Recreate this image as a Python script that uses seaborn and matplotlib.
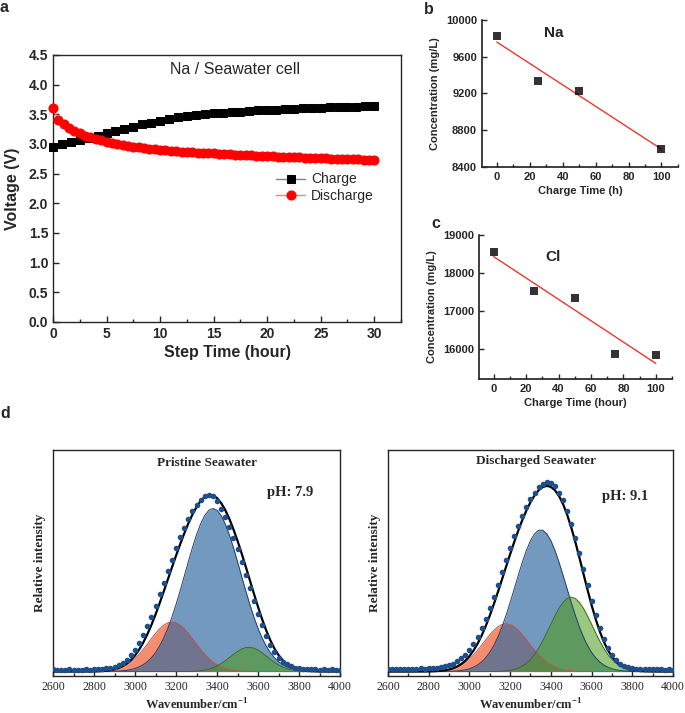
import numpy as np
import pandas as pd
import seaborn as sns
import matplotlib.pyplot as plt
from matplotlib.ticker import MultipleLocator

sns.set_theme(style="ticks")
plt.rcParams['font.family'] = ['Liberation Sans', 'DejaVu Sans']
plt.rcParams['mathtext.fontset'] = 'custom'
plt.rcParams['mathtext.bf'] = 'Liberation Serif:bold'

##panel a - voltage profile of the Na / seawater cell
charge_t = [0, 0.83, 1.67, 2.5, 3.33, 4.17, 5, 5.83, 6.67, 7.5, 8.33, 9.17, 10,
            10.83, 11.67, 12.5, 13.33, 14.17, 15, 15.83, 16.67, 17.5, 18.33, 19.17,
            20, 20.83, 21.67, 22.5, 23.33, 24.17, 25, 25.83, 26.67, 27.5, 28.33, 29.17, 30]
charge_v = [2.95, 3.00, 3.03, 3.07, 3.10, 3.14, 3.18, 3.22, 3.26, 3.29, 3.33, 3.36, 3.39,
            3.42, 3.45, 3.47, 3.49, 3.505, 3.515, 3.525, 3.535, 3.545, 3.555, 3.565,
            3.575, 3.58, 3.59, 3.595, 3.60, 3.605, 3.61, 3.615, 3.62, 3.625, 3.63, 3.64, 3.645]
discharge_t = np.arange(0, 30.5, 0.5)
discharge_v = [3.60, 3.41, 3.33, 3.27, 3.22, 3.18, 3.14, 3.11, 3.08, 3.06,
               3.04, 3.02, 3.00, 2.985, 2.97, 2.955, 2.943, 2.931, 2.92, 2.91,
               2.900, 2.893, 2.886, 2.879, 2.873, 2.867, 2.861, 2.855, 2.850, 2.845,
               2.840, 2.835, 2.830, 2.826, 2.821, 2.817, 2.812, 2.808, 2.804, 2.799,
               2.795, 2.791, 2.788, 2.784, 2.781, 2.777, 2.774, 2.770, 2.767, 2.763,
               2.760, 2.757, 2.754, 2.751, 2.748, 2.745, 2.742, 2.739, 2.736, 2.733, 2.730]

##panel b / c - ion concentration during charge
na_time = [0, 25, 50, 100]
na_conc = [9830, 9340, 9230, 8600]
cl_time = [0, 25, 50, 75, 100]
cl_conc = [18540, 17530, 17330, 15880, 15850]

##panel d - O-H stretching band, measured points and fitted peaks
wavenumber = np.arange(2600, 4001, 20)
pristine_pts = [0.012, 0.010, 0.011, 0.010, 0.012, 0.011, 0.010, 0.011, 0.012, 0.011,
                0.012, 0.013, 0.015, 0.018, 0.022, 0.028, 0.037, 0.050, 0.068, 0.092,
                0.122, 0.160, 0.205, 0.255, 0.310, 0.372, 0.435, 0.500, 0.567, 0.632,
                0.696, 0.757, 0.812, 0.862, 0.905, 0.942, 0.970, 0.988, 0.998, 0.990,
                0.960, 0.915, 0.870, 0.817, 0.756, 0.690, 0.618, 0.544, 0.470, 0.396,
                0.326, 0.260, 0.202, 0.151, 0.110, 0.078, 0.054, 0.040, 0.030, 0.022,
                0.018, 0.015, 0.013, 0.012, 0.012, 0.011, 0.012, 0.011, 0.012, 0.011, 0.010]
discharged_pts = [0.012, 0.014, 0.012, 0.013, 0.015, 0.013, 0.016, 0.014, 0.018, 0.016,
                  0.020, 0.018, 0.022, 0.026, 0.030, 0.036, 0.045, 0.058, 0.075, 0.095,
                  0.122, 0.155, 0.196, 0.243, 0.298, 0.358, 0.423, 0.490, 0.560, 0.628,
                  0.696, 0.762, 0.822, 0.878, 0.930, 0.972, 1.010, 1.040, 1.060, 1.070,
                  1.065, 1.045, 1.010, 0.965, 0.905, 0.835, 0.755, 0.668, 0.578, 0.488,
                  0.400, 0.320, 0.248, 0.186, 0.135, 0.095, 0.066, 0.045, 0.032, 0.024,
                  0.019, 0.016, 0.014, 0.013, 0.012, 0.013, 0.012, 0.012, 0.011, 0.012, 0.011]
# fitted gaussian peaks: (center, height, sigma)
peak_names = ['low', 'main', 'high']
pristine_peaks = [(3180, 0.28, 110), (3380, 0.92, 135), (3555, 0.137, 90)]
discharged_peaks = [(3180, 0.27, 110), (3350, 0.80, 125), (3500, 0.42, 105)]
peak_colors = ['#f26f4a', '#33699f', '#4c9a14']
peak_edges = ['#c0504d', '#1f3f6e', '#3d6b1f']
peak_alpha = [0.8, 0.68, 0.55]

fig = plt.figure(figsize=(6.85, 7.13), dpi=100)

# ---------------- a
ax = fig.add_axes([0.0774, 0.5484, 0.508, 0.3745])
sns.lineplot(x=charge_t, y=charge_v, ax=ax, color='#808080', lw=1, marker='s',
             markersize=5.5, markerfacecolor='black', markeredgecolor='black',
             label='Charge', clip_on=False, zorder=3)
sns.lineplot(x=discharge_t, y=discharge_v, ax=ax, color='#ff8080', lw=1, marker='o',
             markersize=6.5, markerfacecolor='#ff0000', markeredgecolor='#ff0000',
             label='Discharge', clip_on=False, zorder=4)
ax.set_xlim(0, 32.5)
ax.set_ylim(0, 4.5)
ax.xaxis.set_major_locator(MultipleLocator(5))
ax.xaxis.set_minor_locator(MultipleLocator(2.5))
ax.yaxis.set_major_locator(MultipleLocator(0.5))
ax.tick_params(which='both', direction='in', labelsize=10, width=1)
ax.tick_params(which='major', length=4)
ax.tick_params(which='minor', length=2.5)
for t in ax.get_xticklabels() + ax.get_yticklabels():
    t.set_fontweight('bold')
ax.set_xlabel('Step Time (hour)', fontsize=11.5, fontweight='bold', labelpad=3)
ax.set_ylabel('Voltage (V)', fontsize=11.5, fontweight='bold', labelpad=6)
for s in ax.spines.values():
    s.set_visible(True)
    s.set_linewidth(1)
ax.text(0.523, 0.944, 'Na / Seawater cell', transform=ax.transAxes, ha='center',
        va='center', fontsize=11.5)
ax.legend(loc='upper left', bbox_to_anchor=(0.641, 0.56), frameon=False, fontsize=10,
          handlelength=2.1, handletextpad=0.4, labelspacing=0.2, borderpad=0,
          borderaxespad=0)


def conc_panel(ax, xs, ys, ylim, yticks, xlabel, ion, ion_pos):
    sns.regplot(x=xs, y=ys, ax=ax, ci=None, marker='s', color='red',
                scatter_kws=dict(color='black', s=30, linewidths=0, zorder=3),
                line_kws=dict(color='#e8392e', lw=1))
    ax.set_xlim(-9, 110)
    ax.set_ylim(*ylim)
    ax.set_yticks(yticks)
    ax.xaxis.set_major_locator(MultipleLocator(20))
    ax.xaxis.set_minor_locator(MultipleLocator(10))
    ax.tick_params(which='both', direction='in', labelsize=8, width=1)
    ax.tick_params(which='major', length=3.5)
    ax.tick_params(which='minor', length=2)
    for t in ax.get_xticklabels() + ax.get_yticklabels():
        t.set_fontweight('bold')
    ax.set_xlabel(xlabel, fontsize=8, fontweight='bold', labelpad=3)
    ax.set_ylabel('Concentration (mg/L)', fontsize=8, fontweight='bold', labelpad=4)
    sns.despine(ax=ax)
    ax.text(ion_pos[0], ion_pos[1], ion, transform=ax.transAxes, ha='center',
            va='center', fontsize=11, fontweight='bold')


# ---------------- b
ax_b = fig.add_axes([0.7036, 0.7658, 0.2861, 0.2062])
conc_panel(ax_b, na_time, na_conc, (8400, 10000), [8400, 8800, 9200, 9600, 10000],
           'Charge Time (h)', 'Na', (0.367, 0.912))

# ---------------- c
ax_c = fig.add_axes([0.6993, 0.4684, 0.2818, 0.2020])
conc_panel(ax_c, cl_time, cl_conc, (15210, 19000), [16000, 17000, 18000, 19000],
           'Charge Time (hour)', 'Cl', (0.383, 0.849))


# ---------------- d
def spectrum_panel(ax, pts, peaks, title, ph, title_pos, ph_pos):
    x = wavenumber
    fit = np.zeros(len(x))
    for (c, h, w), col, ec, al in zip(peaks, peak_colors, peak_edges, peak_alpha):
        g = h * np.exp(-(x - c) ** 2 / (2 * w ** 2))
        fit = fit + g
        ax.fill_between(x, 0, g, color=col, alpha=al, lw=0)
        ax.plot(x, g, color=ec, lw=0.7)
    sns.lineplot(x=x, y=fit, ax=ax, color='black', lw=1.6, zorder=4)
    sns.scatterplot(x=x, y=pts, ax=ax, color='#1d4f8c', s=16, linewidth=0, zorder=5)
    ax.set_xlim(2600, 4000)
    ax.set_ylim(-0.025, 1.25)
    ax.set_yticks([])
    ax.xaxis.set_major_locator(MultipleLocator(200))
    ax.xaxis.set_minor_locator(MultipleLocator(100))
    ax.tick_params(which='both', direction='in', labelsize=8.5, width=1)
    ax.tick_params(which='major', length=3.5)
    ax.tick_params(which='minor', length=2)
    for t in ax.get_xticklabels():
        t.set_fontfamily('Liberation Serif')
    for s in ax.spines.values():
        s.set_visible(True)
        s.set_linewidth(1)
    ax.set_xlabel(r'Wavenumber/cm$^{\mathbf{-1}}$', fontsize=9, fontweight='bold',
                  family='Liberation Serif', labelpad=3)
    ax.set_ylabel('Relative intensity', fontsize=9.5, fontweight='bold',
                  family='Liberation Serif', labelpad=5)
    ax.text(title_pos[0], title_pos[1], title, transform=ax.transAxes, ha='center',
            va='center', fontsize=9.5, fontweight='bold', family='Liberation Serif')
    ax.text(ph_pos[0], ph_pos[1], ph, transform=ax.transAxes, ha='center',
            va='center', fontsize=10.5, fontweight='bold', family='Liberation Serif')


ax_d1 = fig.add_axes([0.0774, 0.0519, 0.4190, 0.3170])
spectrum_panel(ax_d1, pristine_pts, pristine_peaks, 'Pristine Seawater', 'pH: 7.9',
               (0.537, 0.942), (0.826, 0.814))
ax_d2 = fig.add_axes([0.5664, 0.0519, 0.4161, 0.3170])
spectrum_panel(ax_d2, discharged_pts, discharged_peaks, 'Discharged Seawater', 'pH: 9.1',
               (0.519, 0.951), (0.832, 0.792))

# panel letters
for lab, px, py in [('a', 4, 8), ('b', 429, 10), ('c', 436, 223), ('d', 5, 413)]:
    fig.text(px / 685, 1 - py / 713, lab, ha='center', va='center', fontsize=11.5,
             fontweight='bold')

fig.savefig('out.png', dpi=100)
